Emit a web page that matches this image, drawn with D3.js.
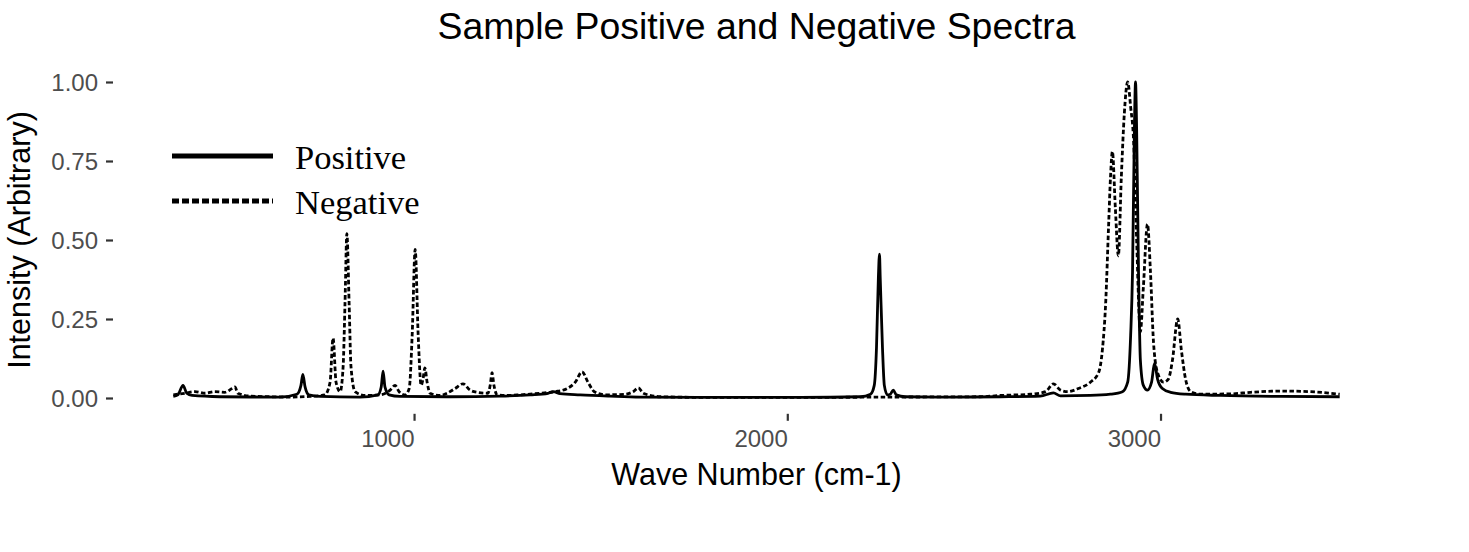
<!DOCTYPE html>
<html>
<head>
<meta charset="utf-8">
<script src="https://cdn.jsdelivr.net/npm/d3@7"></script>
<style>
  html, body { margin: 0; padding: 0; background: #ffffff; }
  svg { display: block; }
</style>
</head>
<body>
<svg id="chart" width="1469" height="552"></svg>
<script>
// ---- data ----
const positiveWave = [355, 367, 381, 391, 405, 480, 641, 686, 697, 702, 708, 718, 748, 855, 903, 912, 917, 922, 933, 962,
  1097, 1231, 1311, 1359, 1373, 1391, 1445, 1525, 1606, 1767, 2035, 2196, 2223, 2233, 2239, 2244, 2247, 2249, 2255, 2260,
  2268, 2276, 2284, 2292, 2316, 2437, 2571, 2678, 2713, 2732, 2812, 2866, 2898, 2912, 2920, 2925, 2930, 2933, 2936, 2941,
  2946, 2954, 2965, 2976, 2984, 2992, 3005, 3027, 3067, 3161, 3322, 3480];
const positiveIntensity = [0.005, 0.01, 0.04, 0.015, 0.008, 0.004, 0.003, 0.012, 0.04, 0.075, 0.035, 0.01, 0.005, 0.003, 0.01, 0.035, 0.085, 0.035, 0.01, 0.005,
  0.004, 0.006, 0.01, 0.015, 0.02, 0.014, 0.01, 0.006, 0.003, 0.002, 0.002, 0.004, 0.012, 0.04, 0.16, 0.38, 0.455, 0.38, 0.16, 0.04,
  0.01, 0.012, 0.025, 0.01, 0.004, 0.003, 0.004, 0.006, 0.016, 0.007, 0.008, 0.012, 0.02, 0.05, 0.2, 0.4, 0.85, 1.0, 0.85, 0.4,
  0.12, 0.04, 0.025, 0.05, 0.11, 0.06, 0.03, 0.018, 0.012, 0.008, 0.005, 0.004];

const negativeWave = [355, 386, 413, 440, 466, 493, 512, 520, 528, 560, 614, 668, 721, 761, 775, 783, 791, 802, 810, 815,
  820, 826, 831, 842, 869, 909, 936, 949, 960, 976, 987, 995, 1003, 1011, 1019, 1024, 1029, 1035, 1043, 1070,
  1088, 1110, 1131, 1150, 1169, 1198, 1204, 1209, 1214, 1223, 1249, 1284, 1338, 1378, 1410, 1432, 1450, 1466, 1483, 1512,
  1566, 1587, 1601, 1614, 1660, 1767, 2035, 2303, 2517, 2571, 2652, 2692, 2713, 2732, 2751, 2780, 2812, 2834, 2844, 2853,
  2861, 2866, 2871, 2879, 2887, 2895, 2903, 2912, 2920, 2928, 2936, 2946, 2954, 2965, 2973, 2981, 2992, 3008, 3021, 3032,
  3046, 3056, 3067, 3081, 3107, 3188, 3241, 3322, 3402, 3480];
const negativeIntensity = [0.01, 0.015, 0.02, 0.015, 0.02, 0.018, 0.03, 0.035, 0.015, 0.006, 0.004, 0.003, 0.005, 0.01, 0.05, 0.19, 0.05, 0.02, 0.1, 0.3,
  0.52, 0.3, 0.1, 0.02, 0.008, 0.01, 0.025, 0.04, 0.02, 0.01, 0.03, 0.2, 0.47, 0.2, 0.04, 0.06, 0.095, 0.05, 0.015, 0.008,
  0.015, 0.03, 0.045, 0.025, 0.018, 0.015, 0.04, 0.08, 0.04, 0.01, 0.008, 0.01, 0.015, 0.02, 0.03, 0.05, 0.083, 0.05, 0.02, 0.01,
  0.012, 0.02, 0.032, 0.015, 0.004, 0.002, 0.002, 0.003, 0.004, 0.008, 0.012, 0.02, 0.045, 0.025, 0.02, 0.03, 0.05, 0.08, 0.15, 0.3,
  0.55, 0.7, 0.78, 0.6, 0.45, 0.7, 0.9, 1.0, 0.92, 0.81, 0.5, 0.21, 0.35, 0.55, 0.4, 0.18, 0.08, 0.05, 0.06, 0.12,
  0.25, 0.15, 0.06, 0.02, 0.012, 0.013, 0.018, 0.022, 0.02, 0.012];

const seriesNames = ["Positive", "Negative"];
const xTicks = [1000, 2000, 3000];
const yTicks = [0, 0.25, 0.5, 0.75, 1.0];
const chartTitle = "Sample Positive and Negative Spectra";
const xTitle = "Wave Number (cm-1)";
const yTitle = "Intensity (Arbitrary)";

// ---- layout ----
const svg = d3.select("#chart");
const panel = { left: 115, right: 1398, top: 66.2, bottom: 413.8 };
const sans = "'Liberation Sans', Arial, Helvetica, sans-serif";
const serif = "'Liberation Serif', 'Times New Roman', Times, serif";

const positive = positiveWave.map((w, i) => ({ x: w, y: positiveIntensity[i] }));
const negative = negativeWave.map((w, i) => ({ x: w, y: negativeIntensity[i] }));
const all = positive.concat(negative);

const xExt = d3.extent(all, d => d.x);
const yExt = [0, d3.max(all, d => d.y)];
const xPad = (xExt[1] - xExt[0]) * 0.05;
const yPad = (yExt[1] - yExt[0]) * 0.05;

const x = d3.scaleLinear().domain([xExt[0] - xPad, xExt[1] + xPad]).range([panel.left, panel.right]);
const y = d3.scaleLinear().domain([yExt[0] - yPad, yExt[1] + yPad]).range([panel.bottom, panel.top]);

// title
svg.append("text")
  .attr("x", (panel.left + panel.right) / 2).attr("y", 39)
  .attr("text-anchor", "middle")
  .style("font-family", sans).style("font-size", "37.4px").attr("fill", "#000")
  .text(chartTitle);

// y axis
const yAxis = svg.append("g").attr("transform", `translate(${panel.left - 2},0)`)
  .call(d3.axisLeft(y).tickValues(yTicks).tickFormat(d3.format(".2f")).tickSize(7).tickPadding(8));
yAxis.select(".domain").remove();
yAxis.selectAll(".tick line").attr("stroke", "#333333").attr("stroke-width", 2.2);
yAxis.selectAll(".tick text").attr("fill", "#4D4D4D").style("font-family", sans).style("font-size", "24px")
  .attr("dy", "0.36em");

// x axis
const xAxis = svg.append("g").attr("transform", `translate(0,${panel.bottom})`)
  .call(d3.axisBottom(x).tickValues(xTicks).tickFormat(d3.format("d")).tickSize(7));
xAxis.select(".domain").remove();
xAxis.selectAll(".tick line").attr("stroke", "#333333").attr("stroke-width", 2.2);
xAxis.selectAll(".tick text").attr("fill", "#4D4D4D").style("font-family", sans).style("font-size", "24px")
  .attr("text-anchor", "end").attr("y", 33).attr("dy", 0);

// axis titles
svg.append("text")
  .attr("x", (panel.left + panel.right) / 2).attr("y", 485)
  .attr("text-anchor", "middle")
  .style("font-family", sans).style("font-size", "30.5px").attr("fill", "#000")
  .text(xTitle);
svg.append("text")
  .attr("transform", `translate(30,${(panel.top + panel.bottom) / 2}) rotate(-90)`)
  .attr("text-anchor", "middle")
  .style("font-family", sans).style("font-size", "30.5px").attr("fill", "#000")
  .text(yTitle);

// lines
const line = d3.line().x(d => x(d.x)).y(d => y(d.y)).curve(d3.curveMonotoneX);
svg.append("path").datum(negative)
  .attr("d", line).attr("fill", "none").attr("stroke", "#000")
  .attr("stroke-width", 2.8).attr("stroke-dasharray", "4.5,2.5").attr("stroke-linejoin", "round");
svg.append("path").datum(positive)
  .attr("d", line).attr("fill", "none").attr("stroke", "#000")
  .attr("stroke-width", 2.8).attr("stroke-linejoin", "round");

// legend
const legend = svg.append("g");
const legendRows = [
  { name: seriesNames[0], dash: null, ky: 156, ty: 169 },
  { name: seriesNames[1], dash: "7,3", ky: 201, ty: 214 }
];
legendRows.forEach(r => {
  legend.append("line")
    .attr("x1", 172).attr("x2", 273).attr("y1", r.ky).attr("y2", r.ky)
    .attr("stroke", "#000").attr("stroke-width", 4.8)
    .attr("stroke-dasharray", r.dash);
  legend.append("text")
    .attr("x", 295).attr("y", r.ty)
    .style("font-family", serif).style("font-size", "34.5px").attr("fill", "#000")
    .text(r.name);
});
</script>
</body>
</html>
